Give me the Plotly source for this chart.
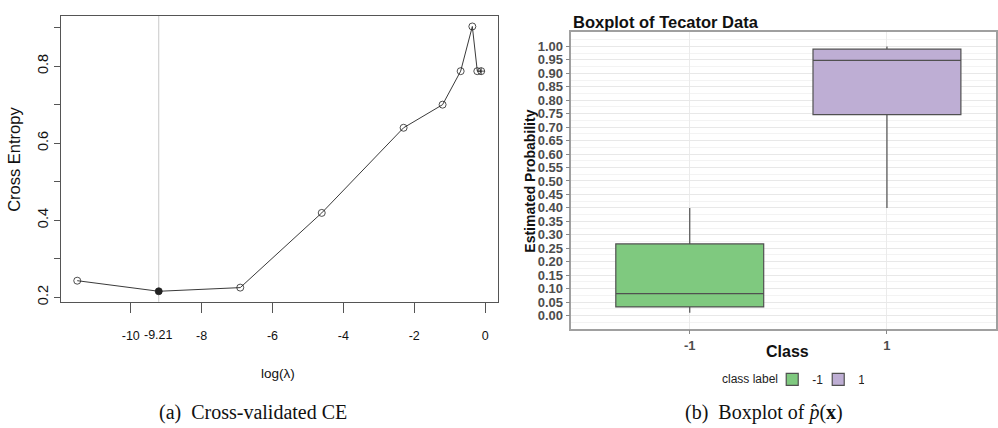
import plotly.graph_objects as go

W, H = 998, 428

# ---------------- data: panel (a) ----------------
log_lambda = [-11.51, -9.21, -6.91, -4.61, -2.30, -1.20, -0.69, -0.36, -0.22, -0.11]
cross_entropy = [0.243, 0.2155, 0.225, 0.419, 0.640, 0.700, 0.787, 0.903, 0.787, 0.787]
x_ticks_a = [-10, -8, -6, -4, -2, 0]
y_ticks_a = [0.2, 0.3, 0.4, 0.5, 0.6, 0.7, 0.8, 0.9]
y_ticklabels_a = ["0.2", "", "0.4", "", "0.6", "", "0.8", ""]

# ---------------- data: panel (b) ----------------
classes = ["-1", "1"]
q1 = [0.032, 0.747]
median = [0.081, 0.948]
q3 = [0.266, 0.990]
lower_whisker = [0.010, 0.400]
upper_whisker = [0.400, 1.000]
box_colors = ["#7FC97F", "#BEAED4"]
prob_ticks = [0.00, 0.05, 0.10, 0.15, 0.20, 0.25, 0.30, 0.35, 0.40, 0.45, 0.50,
              0.55, 0.60, 0.65, 0.70, 0.75, 0.80, 0.85, 0.90, 0.95, 1.00]


def px(x):
    return x / W


def py(y):
    return 1 - y / H


fig = go.Figure()

# panel (a): line with markers
imin = min(range(len(cross_entropy)), key=lambda i: cross_entropy[i])
symbols = []
for i in range(len(log_lambda)):
    if i == imin:
        symbols.append("circle")
    elif i == len(log_lambda) - 1:
        symbols.append("circle-cross-open")
    else:
        symbols.append("circle-open")

fig.add_trace(go.Scatter(
    x=log_lambda, y=cross_entropy, mode="lines+markers",
    line=dict(color="#3a3a3a", width=1),
    marker=dict(symbol=symbols, size=7, color="#222", line=dict(color="#222", width=0.8)),
    showlegend=False, xaxis="x", yaxis="y", hoverinfo="x+y",
))

best = log_lambda[imin]
fig.add_shape(type="line", xref="x", yref="y domain", x0=best, x1=best, y0=0, y1=1,
              line=dict(color="#c8c8c8", width=1), layer="below")

# panel (b): boxplots
for i, c in enumerate(classes):
    fig.add_trace(go.Box(
        x=[i + 1], q1=[q1[i]], median=[median[i]], q3=[q3[i]],
        lowerfence=[lower_whisker[i]], upperfence=[upper_whisker[i]],
        name=c, fillcolor=box_colors[i], line=dict(color="#505050", width=1.2),
        width=0.75, whiskerwidth=0, boxpoints=False,
        xaxis="x2", yaxis="y2", showlegend=True,
    ))

narrow = "Liberation Sans Narrow, Arial Narrow, Liberation Sans, Arial, sans-serif"
sans = "Liberation Sans, Arial, sans-serif"
serif = "Liberation Serif, Times New Roman, serif"

fig.update_layout(
    width=W, height=H, margin=dict(l=0, r=0, t=0, b=0),
    paper_bgcolor="white", plot_bgcolor="white",
    xaxis=dict(
        domain=[px(61), px(498)], range=[-11.97, 0.35], anchor="y",
        tickvals=x_ticks_a, ticktext=[str(v) for v in x_ticks_a],
        ticks="outside", ticklen=10, tickcolor="#555", tickwidth=1,
        showline=True, mirror=True, linecolor="#555", linewidth=1,
        showgrid=False, zeroline=False,
        tickfont=dict(family=narrow, size=12.5, color="#111"),
        ticklabelstandoff=12,
    ),
    yaxis=dict(
        domain=[py(304), py(16)], range=[0.188, 0.9305], anchor="x",
        tickvals=y_ticks_a, ticktext=y_ticklabels_a, tickangle=-90,
        ticks="outside", ticklen=6, tickcolor="#555", tickwidth=1,
        showline=True, mirror=True, linecolor="#555", linewidth=1,
        showgrid=False, zeroline=False,
        tickfont=dict(family=sans, size=14.5, color="#111"),
    ),
    xaxis2=dict(
        domain=[px(572), px(997)], range=[0.4, 2.553], anchor="y2",
        tickvals=[i + 1 for i in range(len(classes))], ticktext=classes,
        ticks="outside", ticklen=4, tickcolor="#888",
        showline=True, mirror=True, linecolor="#a0a0a0", linewidth=1.5,
        showgrid=True, gridcolor="#ebebeb", gridwidth=1, zeroline=False,
        tickfont=dict(family=sans, size=13, color="#4d4d4d", weight="bold"),
    ),
    yaxis2=dict(
        domain=[py(331), py(32.7)], range=[-0.049, 1.052], anchor="x2",
        tickvals=prob_ticks, ticktext=["%.2f" % v for v in prob_ticks],
        ticks="outside", ticklen=4, tickcolor="#888",
        showline=True, mirror=True, linecolor="#a0a0a0", linewidth=1.5,
        showgrid=True, gridcolor="#e8e8e8", gridwidth=1, zeroline=False,
        minor=dict(tickvals=[v + 0.025 for v in [-0.05] + prob_ticks], showgrid=True,
                   gridcolor="#f3f3f3", gridwidth=0.7, ticks=""),
        tickfont=dict(family=sans, size=13, color="#4d4d4d", weight="bold"),
    ),
    legend=dict(
        orientation="h", x=px(773), xanchor="left", y=py(382), yanchor="middle",
        font=dict(family=sans, size=12, color="#222"),
        bgcolor="rgba(0,0,0,0)", itemwidth=30, entrywidth=1,
    ),
)


def ann(text, x, y, size, family=sans, angle=0, xanchor="center", color="#111"):
    return dict(text=text, x=px(x), y=py(y), xref="paper", yref="paper", showarrow=False,
                xanchor=xanchor, yanchor="middle", textangle=angle,
                font=dict(family=family, size=size, color=color))


annotations = [
    # panel (a)
    dict(text="-9.21", x=best, xref="x", y=py(337.5), yref="paper", showarrow=False,
         xanchor="center", yanchor="middle",
         font=dict(family=narrow, size=12.5, color="#111")),
    ann("log(λ)", 278, 376, 13.5, family=narrow),
    ann("Cross Entropy", 14, 160, 16.5, angle=-90),
    ann("(a)  Cross-validated CE", 253.5, 415, 20, family=serif),
    # panel (b)
    ann("<b>Boxplot of Tecator Data</b>", 572, 22, 16.5, xanchor="left"),
    ann("<b>Estimated Probability</b>", 530.5, 182, 14, angle=-90),
    ann("<b>Class</b>", 788, 354, 16),
    ann("class label", 781, 382, 12, xanchor="right", color="#222"),
    ann("(b)  Boxplot of <i>p̂</i>(<b>x</b>)", 765, 415, 20, family=serif),
]
fig.update_layout(annotations=annotations)

fig.write_html("out.html")
